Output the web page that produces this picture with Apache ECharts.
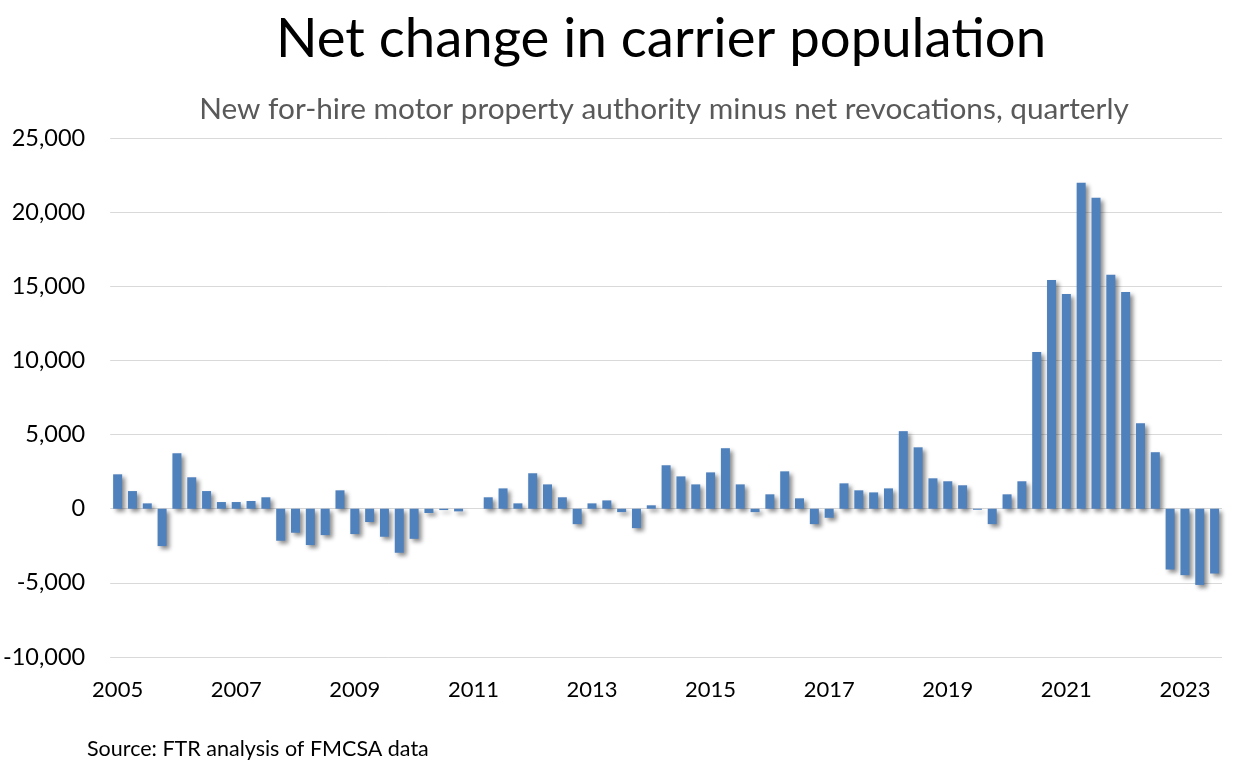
<!DOCTYPE html>
<html>
<head>
<meta charset="utf-8">
<script src="https://cdn.jsdelivr.net/npm/echarts@6/dist/echarts.min.js"></script>
<style>
html,body{margin:0;padding:0;background:#fff;}
#chart{width:1256px;height:769px;}
</style>
</head>
<body>
<div id="chart"></div>
<script>
const titleText = 'Net change in carrier population';
const subtitleText = 'New for-hire motor property authority minus net revocations, quarterly';
const sourceText = 'Source: FTR analysis of FMCSA data';

const years = ['2005','2006','2007','2008','2009','2010','2011','2012','2013','2014','2015','2016','2017','2018','2019','2020','2021','2022','2023'];
const quarterNames = ['Q1','Q2','Q3','Q4'];

// Net change, quarterly, 2005 Q1 .. 2023 Q3
const netChange = [
  2320, 1190, 360, -2520,      // 2005
  3740, 2120, 1190, 450,       // 2006
  450, 520, 770, -2160,        // 2007
  -1620, -2450, -1780, 1240,   // 2008
  -1710, -900, -1890, -2970,   // 2009
  -2030, -290, -90, -180,      // 2010
  0, 770, 1370, 360,           // 2011
  2390, 1640, 770, -1040,      // 2012
  360, 560, -230, -1310,       // 2013
  230, 2930, 2180, 1640,       // 2014
  2450, 4080, 1640, -230,      // 2015
  970, 2520, 700, -1040,       // 2016
  -610, 1710, 1240, 1100,      // 2017
  1370, 5230, 4140, 2050,      // 2018
  1850, 1580, -70, -1040,      // 2019
  970, 1850, 10560, 15430,     // 2020
  14480, 21980, 20970, 15770,  // 2021
  14620, 5770, 3810, -4100,    // 2022
  -4480, -5140, -4370          // 2023
];

const yMin = -10000, yMax = 25000, yStep = 5000;

const categories = [];
years.forEach(y => quarterNames.forEach(q => categories.push(y + ' ' + q)));
categories.length = netChange.length;

const FONT = 'Lato';
const chart = echarts.init(document.getElementById('chart'), null, {renderer: 'canvas'});
chart.setOption({
  backgroundColor: '#ffffff',
  animation: false,
  title: [
    {text: titleText, left: 656, textAlign: 'center', top: 7,
     textStyle: {fontFamily: FONT, fontSize: 54.5, fontWeight: 'normal', color: '#000'}},
    {text: subtitleText, left: 659, textAlign: 'center', top: 89,
     textStyle: {fontFamily: FONT, fontSize: 29.8, fontWeight: 'normal', color: '#595959'}},
    {text: sourceText, left: 82, top: 733,
     textStyle: {fontFamily: FONT, fontSize: 21.5, fontWeight: 'normal', color: '#000'}}
  ],
  grid: {left: 110, right: 34, top: 138, bottom: 112, containLabel: false},
  xAxis: {
    type: 'category',
    data: categories,
    boundaryGap: true,
    axisLine: {show: false},
    axisTick: {show: false},
    splitLine: {show: false},
    axisLabel: {
      interval: (i) => i % 8 === 0,
      formatter: (v) => v.slice(0, 4),
      fontFamily: FONT, fontSize: 22, color: '#000', margin: 22
    }
  },
  yAxis: {
    type: 'value',
    min: yMin, max: yMax, interval: yStep,
    axisLine: {show: false},
    axisTick: {show: false},
    splitLine: {lineStyle: {color: '#d9d9d9', width: 1}},
    axisLabel: {
      formatter: (v) => v.toLocaleString('en-US'),
      fontFamily: FONT, fontSize: 23.5, color: '#000', margin: 25
    }
  },
  series: [{
    type: 'bar',
    data: netChange,
    barWidth: 9,
    itemStyle: {
      color: '#4f81bd',
      shadowColor: 'rgba(0,0,0,0.45)',
      shadowBlur: 4,
      shadowOffsetX: 3,
      shadowOffsetY: 3
    }
  }]
});
</script>
</body>
</html>
